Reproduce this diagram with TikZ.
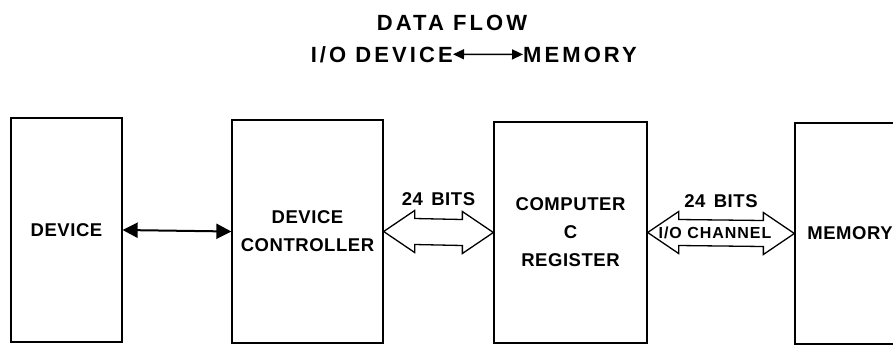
\documentclass[tikz,border=0pt]{standalone}
\usepackage{fontspec}
\setmainfont{Liberation Sans}[LetterSpace=3]
\newfontfamily\titlefont{Liberation Sans}[LetterSpace=14]
\newfontfamily\chanfont{Liberation Sans}[LetterSpace=6]
\usetikzlibrary{arrows.meta, calc}

\newcommand{\boxtext}{\bfseries\fontsize{18.5}{28}\selectfont}

% hollow double arrow between two boxes
\newcommand{\busarrow}[2]{%
	\draw [bus] (#1.east) -- ++(31, -21) -- ++(0, 8) -- ($(#2.west) + (-31, -13)$) -- ++(0, -8)
		-- (#2.west) -- ++(-31, 21) -- ++(0, -8) -- ($(#1.east) + (31, 13)$) -- ++(0, 8) -- cycle;
}

\tikzset{
	block/.style = {draw, line width = 1.3pt, align = center, inner sep = 0pt, font = \boxtext},
	bus/.style = {line width = 1.3pt, line join = miter},
	label/.style = {inner sep = 0pt, font = \boxtext},
	headline/.style = {inner sep = 0pt, font = \titlefont\bfseries\fontsize{22}{26}\selectfont}
}

\begin{document}
\begin{tikzpicture}[x = 1pt, y = -1pt]

	\clip (0, 0) rectangle (893, 346);

	% Title
	\node [headline, anchor = base] (title) at (452, 30) {DATA FLOW};
	\node [headline, anchor = base east] (from) at (453, 62) {I/O DEVICE};
	\node [headline, anchor = base west] (to) at (523, 62) {MEMORY};
	\draw [{Triangle[length = 11pt, width = 10pt]}-{Triangle[length = 11pt, width = 10pt]}, line width = 1.5pt]
		(from.east) -- (to.west);

	% Boxes
	\node [block, minimum width = 111, minimum height = 224] (device) at (66.5, 230) {DEVICE};
	\node [block, minimum width = 151, minimum height = 223] (ctrl) at (307.5, 231.5) {DEVICE\\CONTROLLER};
	\node [block, minimum width = 153, minimum height = 221] (comp) at (570.5, 232.5) {COMPUTER\\C\\REGISTER};
	\node [block, minimum width = 110, minimum height = 221] (mem) at (850, 233.5) {MEMORY};

	% Links
	\draw [{Triangle[length = 15pt, width = 15pt]}-{Triangle[length = 15pt, width = 15pt]}, line width = 2pt]
		(device.east) -- (ctrl.west);

	\busarrow{ctrl}{comp}
	\busarrow{comp}{mem}

	\node [label] (bits-a) at ($(ctrl.east)!0.5!(comp.west) + (0, -33)$) {24\hspace{0.45em}BITS};
	\node [label] (bits-b) at ($(comp.east)!0.5!(mem.west) + (0, -32)$) {24\hspace{0.45em}BITS};
	\node [inner sep = 0pt, font = \chanfont\bfseries\fontsize{16}{18}\selectfont] (chan)
		at ($(comp.east)!0.5!(mem.west) + (-6, 0)$) {I/O CHANNEL};

\end{tikzpicture}
\end{document}
